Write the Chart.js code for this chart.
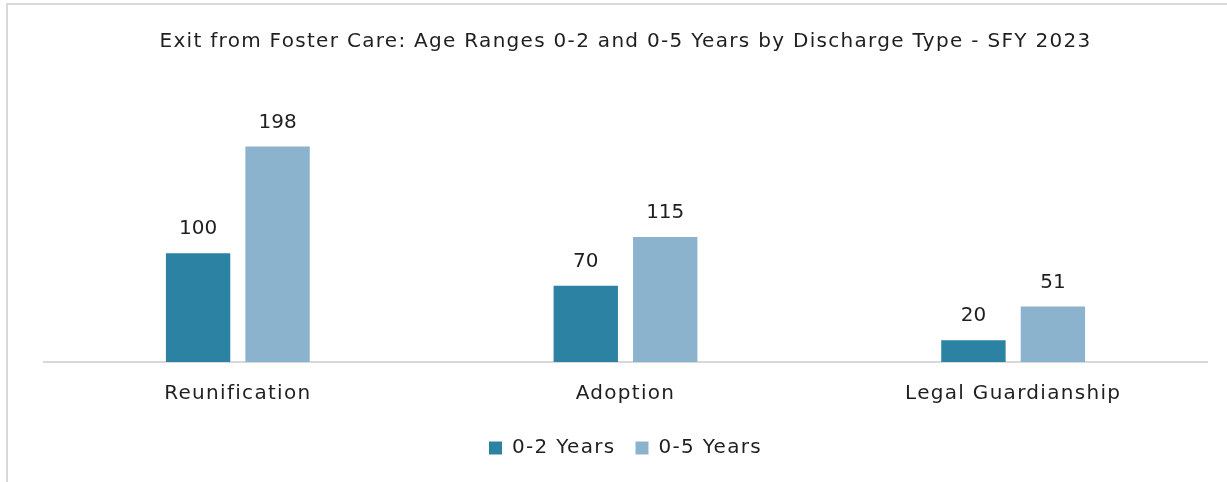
<!DOCTYPE html>
<html>
<head>
<meta charset="utf-8">
<script src="https://cdn.jsdelivr.net/npm/chart.js@4"></script>
<style>
  html, body { margin: 0; padding: 0; background: #fff; overflow: hidden; }
  #frame { position: absolute; left: 6px; top: 3px; width: 1300px; height: 600px; border: 2px solid #d9d9d9; }
  #wrap { position: absolute; left: 0; top: 0; width: 1227px; height: 482px; }
</style>
</head>
<body>
<div id="frame"></div>
<div id="wrap"><canvas id="chart"></canvas></div>
<script>
// данные с картинки
const categories = ['Reunification', 'Adoption', 'Legal Guardianship'];
const years02 = [100, 70, 20];
const years05 = [198, 115, 51];
const seriesNames = ['0-2 Years', '0-5 Years'];

const fontFamily = '"DejaVu Sans", sans-serif';
const textColor = '#1f1f1f';

// шрифт в оригинале шире, добавляем межбуквенный интервал
const spacing = {
    id: 'spacing',
    beforeUpdate(chart) { chart.ctx.letterSpacing = '1.3px'; },
    beforeLayout(chart) { chart.ctx.letterSpacing = '1.3px'; },
    beforeDraw(chart) { chart.ctx.letterSpacing = '1.3px'; }
};

// подписи значений над столбцами
const valueLabels = {
    id: 'valueLabels',
    afterDatasetsDraw(chart) {
        const ctx = chart.ctx;
        ctx.save();
        ctx.letterSpacing = '0px';
        ctx.font = '20px ' + fontFamily;
        ctx.fillStyle = textColor;
        ctx.textAlign = 'center';
        ctx.textBaseline = 'middle';
        chart.data.datasets.forEach((ds, i) => {
            chart.getDatasetMeta(i).data.forEach((bar, j) => {
                ctx.fillText(ds.data[j], bar.x, bar.y - 24);
            });
        });
        ctx.restore();
    }
};

new Chart(document.getElementById('chart'), {
    type: 'bar',
    data: {
        labels: categories,
        datasets: [{
            label: seriesNames[0],
            data: years02,
            backgroundColor: '#2c82a3',
            barPercentage: 0.81,
            categoryPercentage: 0.41
        }, {
            label: seriesNames[1],
            data: years05,
            backgroundColor: '#8bb3cd',
            barPercentage: 0.81,
            categoryPercentage: 0.41
        }]
    },
    options: {
        responsive: true,
        maintainAspectRatio: false,
        animation: false,
        layout: { padding: { left: 44, right: 20, top: 20, bottom: 14 } },
        plugins: {
            title: {
                display: true,
                text: 'Exit from Foster Care: Age Ranges 0-2 and 0-5 Years by Discharge Type - SFY 2023',
                color: textColor,
                font: { family: fontFamily, size: 20, weight: 'normal' },
                padding: { top: 10, bottom: 36 }
            },
            legend: {
                position: 'bottom',
                labels: {
                    color: textColor,
                    font: { family: fontFamily, size: 20 },
                    boxWidth: 13,
                    boxHeight: 13,
                    padding: 20
                }
            },
            tooltip: { enabled: false }
        },
        scales: {
            x: {
                grid: { display: false },
                border: { color: '#d9d9d9', width: 2 },
                ticks: {
                    color: textColor,
                    font: { family: fontFamily, size: 20 },
                    padding: 12
                }
            },
            y: {
                display: false,
                min: 0,
                max: 250
            }
        }
    },
    plugins: [spacing, valueLabels]
});
</script>
</body>
</html>
